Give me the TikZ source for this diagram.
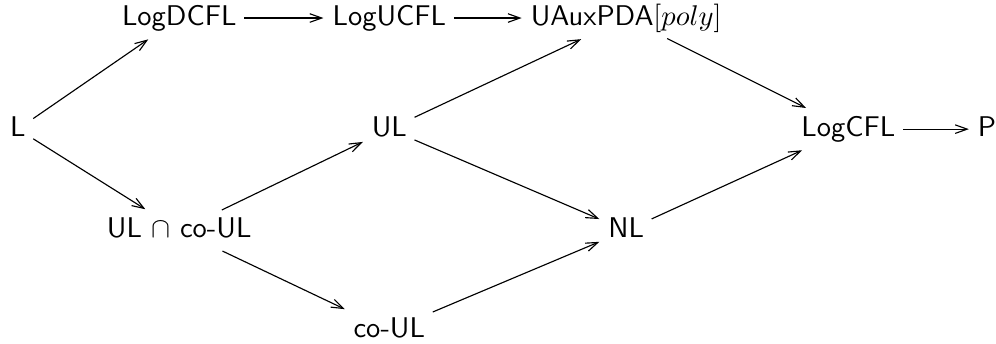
\documentclass[tikz,border=0pt]{standalone}
\usetikzlibrary{positioning}
\usetikzlibrary{arrows.meta}
\tikzset{
	cls/.style={font=\sffamily, inner sep=2.5pt, text height=7pt, text depth=2pt, anchor=base}
}
\begin{document}
\begin{tikzpicture}[->,>={Straight Barb[length=4.2pt,width=3pt]},shorten >=0.5pt,auto]
				\useasboundingbox (0,0) rectangle (12.28,4.23);
				\node[cls] (L) at (0.22, 2.55) {L};
				\node[cls] (dcfl) at (2.21, 3.92) {LogDCFL};
				\node[cls] (ucfl) at (4.80, 3.92) {LogUCFL};
				\node[cls] (uaux) at (7.72, 3.92) {UAuxPDA$[poly]$};
				\node[cls] (logcfl) at (10.46, 2.55) {LogCFL};
				\node[cls] (P) at (12.17, 2.55) {P};
				\node[cls] (ul) at (4.80, 2.55) {UL};
				\node[cls] (ulco) at (2.21, 1.30) {UL $\cap$ co-UL};
				\node[cls] (nl) at (7.72, 1.30) {NL};
				\node[cls] (coul) at (4.80, 0.07) {co-UL};
				\path (L) edge (dcfl);
				\path (L) edge (ulco);
				\path (dcfl) edge (ucfl);
				\path (ucfl) edge (uaux);
				\path (uaux) edge (logcfl);
				\path (logcfl) edge (P);
				\path (ulco) edge (ul);
				\path (ulco) edge (coul);
				\path (ul) edge (uaux);
				\path (ul) edge (nl);
				\path (coul) edge (nl);
				\path (nl) edge (logcfl);
			\end{tikzpicture}
\end{document}
